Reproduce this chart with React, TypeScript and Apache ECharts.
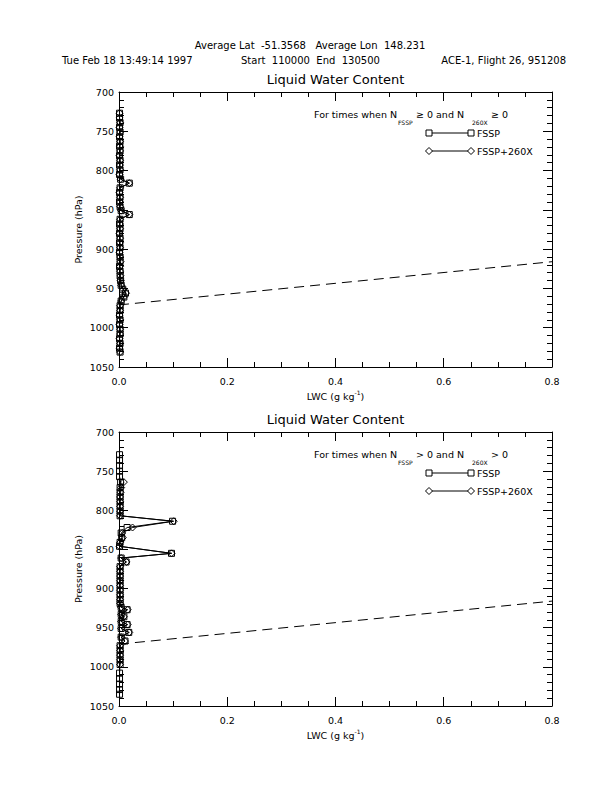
import React, { useEffect, useRef } from "react";
import * as echarts from "echarts";

// ---------- texts ----------
const HEADER_LINE1 = "Average Lat  -51.3568   Average Lon  148.231";
const DATE_TEXT = "Tue Feb 18 13:49:14 1997";
const TIME_TEXT = "Start  110000  End  130500";
const FLIGHT_TEXT = "ACE-1, Flight 26, 951208";
const PLOT_TITLE = "Liquid Water Content";
const Y_NAME = "Pressure (hPa)";
const LEGEND_FSSP = "FSSP";
const LEGEND_TOTAL = "FSSP+260X";
const COND_TOP = "\u2265 0";
const COND_BOTTOM = "> 0";

// ---------- axes ----------
const X_MIN = 0;
const X_MAX = 0.8;
const X_STEP = 0.2;
const Y_MIN = 700;
const Y_MAX = 1050;
const Y_STEP = 50;

// ---------- top panel (N_FSSP >= 0 and N_260X >= 0) ----------
const TOP_P = [727, 733, 739, 745, 751, 757, 763, 769, 775, 781, 787, 793, 799, 805, 811, 816, 822, 828, 834, 840, 846, 851, 856, 862, 868, 874, 880, 886, 892, 898, 904, 910, 916, 922, 928, 934, 940, 946, 951, 956, 961, 966, 972, 978, 984, 990, 996, 1002, 1008, 1014, 1020, 1026, 1031];
const TOP_FSSP = [0.001, 0.001, 0.002, 0.001, 0.002, 0.001, 0.002, 0.001, 0.002, 0.001, 0.002, 0.001, 0.002, 0.001, 0.003, 0.019, 0.002, 0.001, 0.002, 0.001, 0.002, 0.004, 0.019, 0.002, 0.001, 0.002, 0.001, 0.002, 0.001, 0.002, 0.001, 0.002, 0.002, 0.001, 0.002, 0.002, 0.003, 0.004, 0.007, 0.012, 0.009, 0.004, 0.002, 0.002, 0.001, 0.002, 0.001, 0.002, 0.002, 0.001, 0.002, 0.001, 0.002];
const TOP_TOTAL = [0.001, 0.001, 0.002, 0.001, 0.002, 0.001, 0.002, 0.002, 0.002, 0.001, 0.002, 0.002, 0.002, 0.001, 0.003, 0.019, 0.002, 0.001, 0.002, 0.002, 0.002, 0.004, 0.019, 0.002, 0.002, 0.002, 0.001, 0.002, 0.002, 0.002, 0.001, 0.002, 0.003, 0.002, 0.002, 0.003, 0.003, 0.004, 0.008, 0.013, 0.009, 0.004, 0.002, 0.002, 0.001, 0.002, 0.001, 0.002, 0.002, 0.001, 0.002, 0.001, 0.002];

// ---------- bottom panel (N_FSSP > 0 and N_260X > 0) ----------
const BOT_FSSP_P = [729, 736, 743, 750, 757, 764, 771, 777, 783, 789, 795, 801, 807, 814, 822, 829, 835, 841, 846, 855, 861, 866, 872, 878, 884, 890, 896, 902, 908, 914, 919, 924, 927, 933, 936, 942, 946, 951, 956, 962, 967, 973, 979, 985, 991, 997, 1008, 1015, 1022, 1029, 1035];
const BOT_FSSP = [0.001, 0.001, 0.001, 0.001, 0.001, 0.003, 0.002, 0.002, 0.002, 0.002, 0.002, 0.002, 0.002, 0.099, 0.015, 0.004, 0.005, 0.002, 0.001, 0.097, 0.004, 0.013, 0.002, 0.002, 0.002, 0.002, 0.002, 0.002, 0.002, 0.002, 0.002, 0.004, 0.015, 0.004, 0.009, 0.004, 0.015, 0.004, 0.018, 0.004, 0.011, 0.002, 0.002, 0.002, 0.002, 0.002, 0.001, 0.001, 0.001, 0.001, 0.001];
const BOT_TOTAL_P = [764, 771, 777, 783, 789, 795, 801, 807, 814, 822, 829, 835, 841, 846, 855, 861, 866, 872, 878, 884, 890, 896, 902, 908, 914, 919, 924, 927, 933, 936, 942, 946, 951, 956, 962, 967, 973, 979, 985, 991, 997];
const BOT_TOTAL = [0.009, 0.004, 0.003, 0.002, 0.002, 0.002, 0.002, 0.002, 0.101, 0.025, 0.006, 0.007, 0.002, 0.001, 0.097, 0.004, 0.014, 0.002, 0.002, 0.002, 0.002, 0.002, 0.002, 0.002, 0.002, 0.002, 0.004, 0.016, 0.004, 0.009, 0.004, 0.016, 0.004, 0.019, 0.004, 0.011, 0.002, 0.002, 0.002, 0.002, 0.002];

// ---------- dashed reference line ----------
const DASH_LWC = [0, 0.8];
const DASH_P = [971, 916];

const FAMILY = "'DejaVu Sans', 'Liberation Sans', Arial, sans-serif";
const BLACK = "#000";
const MAIN_FONT = `9.5px ${FAMILY}`;
const SUB_FONT = `6px ${FAMILY}`;

const GRID_LEFT = 119;
const GRID_WIDTH = 433;
const PANELS = [
  { top: 92, height: 275 },
  { top: 432, height: 274 },
];

function xAxesFor(gi: number) {
  const base = {
    type: "value",
    gridIndex: gi,
    min: X_MIN,
    max: X_MAX,
    interval: X_STEP,
    axisLine: { show: true, onZero: false, lineStyle: { color: BLACK, width: 1 } },
    axisTick: { show: true, inside: true, length: 9, lineStyle: { color: BLACK, width: 1 } },
    minorTick: { show: true, splitNumber: 4, length: 5, lineStyle: { color: BLACK, width: 1 } },
    splitLine: { show: false },
    minorSplitLine: { show: false },
  };
  return [
    {
      ...base,
      position: "bottom",
      axisLabel: {
        show: true,
        margin: 9,
        color: BLACK,
        fontSize: 9.5,
        fontFamily: FAMILY,
        showMinLabel: true,
        showMaxLabel: true,
        formatter: (v: number) => v.toFixed(1),
      },
    },
    { ...base, position: "top", axisLabel: { show: false } },
  ];
}

function yAxesFor(gi: number) {
  const base = {
    type: "value",
    gridIndex: gi,
    inverse: true,
    min: Y_MIN,
    max: Y_MAX,
    interval: Y_STEP,
    axisLine: { show: true, onZero: false, lineStyle: { color: BLACK, width: 1 } },
    axisTick: { show: true, inside: true, length: 9, lineStyle: { color: BLACK, width: 1 } },
    minorTick: { show: true, splitNumber: 5, length: 5, lineStyle: { color: BLACK, width: 1 } },
    splitLine: { show: false },
    minorSplitLine: { show: false },
  };
  return [
    {
      ...base,
      position: "left",
      axisLabel: {
        show: true,
        margin: 5,
        color: BLACK,
        fontSize: 9.5,
        fontFamily: FAMILY,
        showMinLabel: true,
        showMaxLabel: true,
        formatter: (v: number) => String(v),
      },
    },
    { ...base, position: "right", axisLabel: { show: false } },
  ];
}

function markerSeries(xi: number, yi: number, ps: number[], vs: number[], symbol: string, size: number) {
  return {
    type: "line",
    xAxisIndex: xi,
    yAxisIndex: yi,
    data: ps.map((p, i) => [vs[i], p]),
    symbol,
    symbolSize: size,
    showSymbol: true,
    showAllSymbol: true,
    clip: true,
    silent: true,
    lineStyle: { color: BLACK, width: 1 },
    itemStyle: { color: "rgba(0,0,0,0)", borderColor: BLACK, borderWidth: 1 },
    emphasis: { disabled: true },
    z: 3,
  };
}

function dashSeries(xi: number, yi: number) {
  return {
    type: "line",
    xAxisIndex: xi,
    yAxisIndex: yi,
    data: DASH_LWC.map((v, i) => [v, DASH_P[i]]),
    symbol: "none",
    silent: true,
    clip: true,
    lineStyle: { color: BLACK, width: 1, type: [10, 6] },
    emphasis: { disabled: true },
    z: 2,
  };
}

function conditionText(top: number, cond: string) {
  // [text, subscript?, left x]
  const pieces: [string, boolean, number][] = [
    ["For times when N", false, 314],
    ["FSSP", true, 398],
    [`${cond} and N`, false, 416],
    ["260X", true, 472],
    [cond, false, 491],
  ];
  return pieces.map(([t, sub, x]) => ({
    type: "text",
    x,
    y: sub ? top + 30.5 : top + 22,
    style: { text: t, fill: BLACK, font: sub ? SUB_FONT : MAIN_FONT, align: "left", verticalAlign: "middle" },
  }));
}

function panelGraphics(top: number, height: number, cond: string) {
  const cx = GRID_LEFT + GRID_WIDTH / 2;
  const els: any[] = [];
  els.push({
    type: "text",
    x: cx,
    y: top - 13,
    style: { text: PLOT_TITLE, fill: BLACK, font: `13px ${FAMILY}`, align: "center", verticalAlign: "middle" },
  });
  els.push({
    type: "text",
    x: 78,
    y: top + height / 2,
    rotation: Math.PI / 2,
    style: { text: Y_NAME, fill: BLACK, font: MAIN_FONT, align: "center", verticalAlign: "middle" },
  });
  els.push({
    type: "text",
    x: cx,
    y: top + height + 29,
    style: {
      text: "{a|LWC (g kg}{p|-1}{a|)}",
      align: "center",
      verticalAlign: "middle",
      rich: {
        a: { font: MAIN_FONT, fill: BLACK, lineHeight: 14 },
        p: { font: SUB_FONT, fill: BLACK, lineHeight: 8, verticalAlign: "top" },
      },
    },
  });
  els.push(...conditionText(top, cond));
  const x1 = 429;
  const x2 = 471;
  const r1 = top + 41;
  const r2 = top + 59;
  els.push({ type: "line", shape: { x1, y1: r1, x2, y2: r1 }, style: { stroke: BLACK, lineWidth: 1 } });
  els.push({ type: "rect", shape: { x: x1 - 3, y: r1 - 3, width: 6, height: 6 }, style: { fill: "#fff", stroke: BLACK, lineWidth: 1 } });
  els.push({ type: "rect", shape: { x: x2 - 3, y: r1 - 3, width: 6, height: 6 }, style: { fill: "#fff", stroke: BLACK, lineWidth: 1 } });
  els.push({ type: "text", x: x2 + 6, y: r1, style: { text: LEGEND_FSSP, fill: BLACK, font: MAIN_FONT, align: "left", verticalAlign: "middle" } });
  els.push({ type: "line", shape: { x1, y1: r2, x2, y2: r2 }, style: { stroke: BLACK, lineWidth: 1 } });
  const dia = (x: number, y: number) => ({
    type: "polygon",
    shape: { points: [[x - 3.5, y], [x, y - 3.5], [x + 3.5, y], [x, y + 3.5]] },
    style: { fill: "#fff", stroke: BLACK, lineWidth: 1 },
  });
  els.push(dia(x1, r2));
  els.push(dia(x2, r2));
  els.push({ type: "text", x: x2 + 6, y: r2, style: { text: LEGEND_TOTAL, fill: BLACK, font: MAIN_FONT, align: "left", verticalAlign: "middle" } });
  return els;
}

export default function App() {
  const ref = useRef<HTMLDivElement>(null);
  useEffect(() => {
    if (!ref.current) return;
    const chart = echarts.init(ref.current, undefined, { renderer: "svg" });
    const HEAD_FONT = `10px ${FAMILY}`;
    const graphics: any[] = [
      { type: "text", x: 310, y: 45, style: { text: HEADER_LINE1, fill: BLACK, font: HEAD_FONT, align: "center", verticalAlign: "middle" } },
      { type: "text", x: 62, y: 60, style: { text: DATE_TEXT, fill: BLACK, font: HEAD_FONT, align: "left", verticalAlign: "middle" } },
      { type: "text", x: 241, y: 60, style: { text: TIME_TEXT, fill: BLACK, font: HEAD_FONT, align: "left", verticalAlign: "middle" } },
      { type: "text", x: 566, y: 60, style: { text: FLIGHT_TEXT, fill: BLACK, font: HEAD_FONT, align: "right", verticalAlign: "middle" } },
      ...panelGraphics(PANELS[0].top, PANELS[0].height, COND_TOP),
      ...panelGraphics(PANELS[1].top, PANELS[1].height, COND_BOTTOM),
    ];
    chart.setOption({
      animation: false,
      backgroundColor: "#fff",
      grid: PANELS.map((p) => ({ left: GRID_LEFT, width: GRID_WIDTH, top: p.top, height: p.height, containLabel: false })),
      xAxis: [...xAxesFor(0), ...xAxesFor(1)],
      yAxis: [...yAxesFor(0), ...yAxesFor(1)],
      series: [
        dashSeries(0, 0),
        markerSeries(0, 0, TOP_P, TOP_FSSP, "rect", 6),
        markerSeries(0, 0, TOP_P, TOP_TOTAL, "diamond", 7),
        dashSeries(2, 2),
        markerSeries(2, 2, BOT_FSSP_P, BOT_FSSP, "rect", 6),
        markerSeries(2, 2, BOT_TOTAL_P, BOT_TOTAL, "diamond", 7),
      ],
      graphic: graphics,
    });
    return () => chart.dispose();
  }, []);
  return (
    <div
      ref={ref}
      style={{ position: "absolute", left: 0, top: 0, width: 612, height: 792, background: "#fff" }}
    />
  );
}
